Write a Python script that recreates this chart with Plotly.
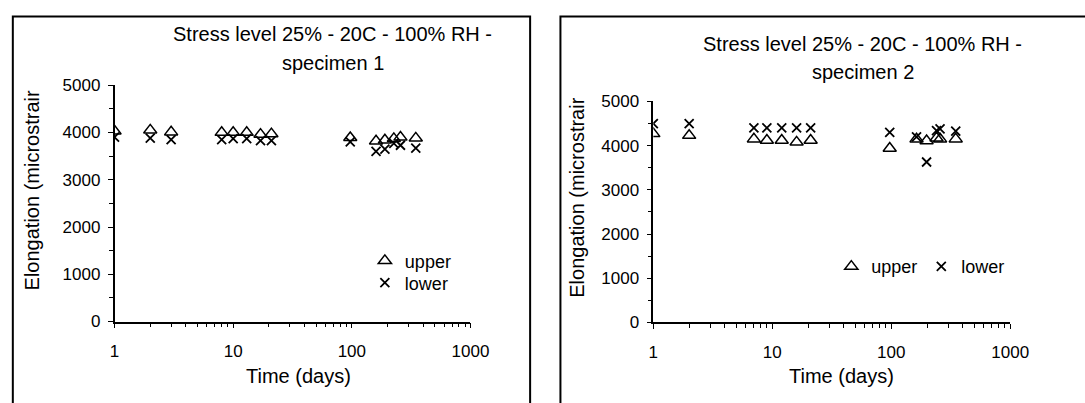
import plotly.graph_objects as go

W, H = 1085, 403

# ---- data ----
days_1 = [1, 2, 3, 8, 10, 13, 17, 21, 97, 160, 190, 226, 257, 346]
upper_1 = [4030, 4050, 4010, 4000, 4000, 4000, 3960, 3970, 3890, 3820, 3840, 3870, 3900, 3880]
lower_1 = [3900, 3880, 3850, 3850, 3870, 3870, 3830, 3830, 3800, 3600, 3650, 3770, 3730, 3670]

days_2 = [1, 2, 7, 9, 12, 16, 21, 97, 163, 198, 240, 257, 348]
upper_2 = [4270, 4230, 4150, 4120, 4120, 4080, 4120, 3940, 4150, 4110, 4170, 4150, 4150]
lower_2 = [4500, 4500, 4400, 4400, 4400, 4400, 4400, 4300, 4200, 3630, 4340, 4380, 4330]

x_ticks = [1, 10, 100, 1000]
y_ticks = [0, 1000, 2000, 3000, 4000, 5000]

FONT = "Liberation Sans, Arial, sans-serif"
FS = 17       # tick labels
FS_T = 20     # titles
FS_L = 18     # legend

def px(x):
    return x / W

def py(y):
    return 1 - y / H

fig = go.Figure()

tri = dict(symbol="triangle-up-open", size=11.5, color="black", line=dict(color="black", width=1.5))
crs = dict(symbol="x-thin-open", size=9, color="black", line=dict(color="black", width=1.8))

fig.add_trace(go.Scatter(x=days_1, y=upper_1, mode="markers", name="upper", marker=tri,
                         xaxis="x", yaxis="y", legend="legend"))
fig.add_trace(go.Scatter(x=days_1, y=lower_1, mode="markers", name="lower", marker=crs,
                         xaxis="x", yaxis="y", legend="legend3"))
fig.add_trace(go.Scatter(x=days_2, y=upper_2, mode="markers", name="upper", marker=tri,
                         xaxis="x2", yaxis="y2", legend="legend2"))
fig.add_trace(go.Scatter(x=days_2, y=lower_2, mode="markers", name="lower", marker=crs,
                         xaxis="x2", yaxis="y2", legend="legend2"))

def xaxis(dom, anchor):
    return dict(type="log", range=[0, 3], domain=dom, anchor=anchor,
                showline=True, linecolor="black", linewidth=1.5,
                ticks="outside", ticklen=5, tickwidth=1.2, tickcolor="black",
                tickvals=x_ticks, ticktext=[str(v) for v in x_ticks],
                minor=dict(ticks="outside", ticklen=4, tickwidth=1.2, tickcolor="black",
                           tickvals=[m * 10 ** e for e in range(3) for m in range(2, 10)]),
                showgrid=False, zeroline=False, ticklabelstandoff=8,
                tickfont=dict(family=FONT, size=FS, color="black"))

def yaxis(dom, anchor):
    return dict(range=[0, 5000], domain=dom, anchor=anchor,
                showline=True, linecolor="black", linewidth=1.5,
                ticks="outside", ticklen=5, tickwidth=1.2, tickcolor="black",
                tickvals=y_ticks, ticktext=[str(v) for v in y_ticks],
                minor=dict(ticks="outside", ticklen=4, tickwidth=1.2, tickcolor="black",
                           dtick=500),
                showgrid=False, zeroline=False, ticklabelstandoff=4,
                tickfont=dict(family=FONT, size=FS, color="black"))

leg_common = dict(xanchor="left", yanchor="top", bgcolor="rgba(0,0,0,0)", itemwidth=30,
                  font=dict(family=FONT, size=FS_L, color="black"))

fig.update_layout(
    width=W, height=H, autosize=False,
    margin=dict(l=0, r=0, t=0, b=0),
    paper_bgcolor="white", plot_bgcolor="white",
    font=dict(family=FONT, size=FS, color="black"),
    xaxis=xaxis([px(112), px(476)], "y"),
    yaxis=yaxis([py(328), py(80)], "x"),
    xaxis2=xaxis([px(663), px(1028)], "y2"),
    yaxis2=yaxis([py(329), py(97)], "x2"),
    legend=dict(x=px(368), y=py(245), **leg_common),
    legend3=dict(x=px(368), y=py(268), **leg_common),
    legend2=dict(x=px(845), y=py(251), orientation="h", entrywidth=45, **leg_common),
    showlegend=True,
)

ann = [
    (335, 26, "Stress level 25% - 20C - 100% RH -", 0),
    (335, 57, "specimen 1", 0),
    (877, 37, "Stress level 25% - 20C - 100% RH -", 0),
    (877, 66, "specimen 2", 0),
    (300, 385, "Time (days)", 0),
    (855, 385, "Time (days)", 0),
    (28, 190, "Elongation (microstrair", -90),
    (585, 198, "Elongation (microstrair", -90),
]
for x, y, t, a in ann:
    fig.add_annotation(x=px(x), y=py(y), xref="paper", yref="paper", text=t, showarrow=False,
                       textangle=a, xanchor="center", yanchor="middle",
                       font=dict(family=FONT, size=FS_T, color="black"))

fig.add_shape(type="rect", xref="paper", yref="paper", x0=px(8), x1=px(537), y0=-0.1, y1=py(8),
              line=dict(color="black", width=2), fillcolor="rgba(0,0,0,0)")
fig.add_shape(type="rect", xref="paper", yref="paper", x0=px(568), x1=1.1, y0=-0.1, y1=py(8),
              line=dict(color="black", width=2), fillcolor="rgba(0,0,0,0)")

fig.write_html("out.html")
